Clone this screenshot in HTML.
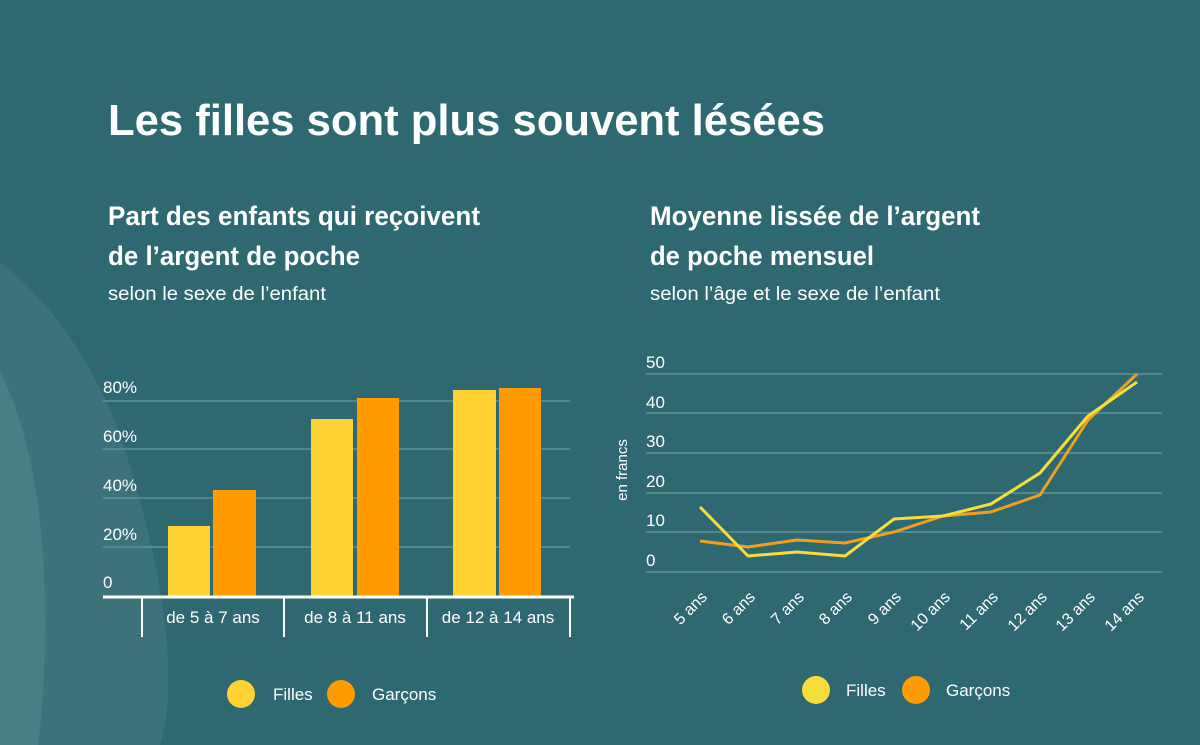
<!DOCTYPE html>
<html><head><meta charset="utf-8"><style>
html,body{margin:0;padding:0;background:#2e6870;}
svg{display:block;font-family:"Liberation Sans Narrow","Liberation Sans",sans-serif;}
</style></head><body>
<svg width="1200" height="745" viewBox="0 0 1200 745" xmlns="http://www.w3.org/2000/svg">
<rect width="1200" height="745" fill="#2e6870"/>
<!-- decorative shapes -->
<path d="M0,262 C50,300 100,370 125,450 C150,530 165,600 168,660 C170,700 165,730 160,745 L0,745 Z" fill="#ffffff" opacity="0.07"/>
<path d="M0,372 C25,420 40,490 44,570 C47,640 44,700 38,745 L0,745 Z" fill="#ffffff" opacity="0.08"/>
<!-- titles -->
<text x="108" y="135" font-size="44" font-weight="bold" fill="#fff" textLength="717" lengthAdjust="spacingAndGlyphs">Les filles sont plus souvent lésées</text>
<text x="108" y="225" font-size="27" font-weight="bold" fill="#fff" textLength="372" lengthAdjust="spacingAndGlyphs">Part des enfants qui reçoivent</text>
<text x="108" y="265" font-size="27" font-weight="bold" fill="#fff" textLength="252" lengthAdjust="spacingAndGlyphs">de l’argent de poche</text>
<text x="108" y="300" font-size="19" fill="#fff" textLength="218" lengthAdjust="spacingAndGlyphs">selon le sexe de l’enfant</text>
<text x="650" y="225" font-size="27" font-weight="bold" fill="#fff" textLength="330" lengthAdjust="spacingAndGlyphs">Moyenne lissée de l’argent</text>
<text x="650" y="265" font-size="27" font-weight="bold" fill="#fff" textLength="224" lengthAdjust="spacingAndGlyphs">de poche mensuel</text>
<text x="650" y="300" font-size="19" fill="#fff" textLength="290" lengthAdjust="spacingAndGlyphs">selon l’âge et le sexe de l’enfant</text>

<!-- bar chart -->
<g stroke="#5f9196" stroke-width="1.5">
<line x1="103" y1="401" x2="570" y2="401"/>
<line x1="103" y1="449" x2="570" y2="449"/>
<line x1="103" y1="498" x2="570" y2="498"/>
<line x1="103" y1="547" x2="570" y2="547"/>
</g>
<g font-size="17" fill="#fff">
<text x="103" y="393">80%</text>
<text x="103" y="442">60%</text>
<text x="103" y="491">40%</text>
<text x="103" y="540">20%</text>
<text x="103" y="588">0</text>
</g>
<rect x="168" y="526" width="42" height="70" fill="#ffd234"/>
<rect x="213" y="490" width="43" height="106" fill="#ff9a00"/>
<rect x="311" y="419" width="42" height="177" fill="#ffd234"/>
<rect x="357" y="398" width="42" height="198" fill="#ff9a00"/>
<rect x="453" y="390" width="43" height="206" fill="#ffd234"/>
<rect x="499" y="388" width="42" height="208" fill="#ff9a00"/>
<line x1="103" y1="597" x2="574" y2="597" stroke="#fff" stroke-width="3"/>
<g stroke="#fff" stroke-width="2">
<line x1="142" y1="597" x2="142" y2="637"/>
<line x1="284" y1="597" x2="284" y2="637"/>
<line x1="427" y1="597" x2="427" y2="637"/>
<line x1="570" y1="597" x2="570" y2="637"/>
</g>
<g font-size="17" fill="#fff" text-anchor="middle">
<text x="213" y="623">de 5 à 7 ans</text>
<text x="355" y="623">de 8 à 11 ans</text>
<text x="498" y="623">de 12 à 14 ans</text>
</g>
<circle cx="241" cy="694" r="14" fill="#ffd234"/>
<text x="273" y="700" font-size="17" fill="#fff">Filles</text>
<circle cx="341" cy="694" r="14" fill="#ff9a00"/>
<text x="372" y="700" font-size="17" fill="#fff">Garçons</text>

<!-- line chart -->
<g stroke="#5f9196" stroke-width="1.5">
<line x1="646" y1="374" x2="1162" y2="374"/>
<line x1="646" y1="413" x2="1162" y2="413"/>
<line x1="646" y1="453" x2="1162" y2="453"/>
<line x1="646" y1="493" x2="1162" y2="493"/>
<line x1="646" y1="532" x2="1162" y2="532"/>
<line x1="646" y1="572" x2="1162" y2="572"/>
</g>
<g font-size="17" fill="#fff">
<text x="646" y="368">50</text>
<text x="646" y="408">40</text>
<text x="646" y="447">30</text>
<text x="646" y="487">20</text>
<text x="646" y="526">10</text>
<text x="646" y="566">0</text>
</g>
<text transform="translate(627,470) rotate(-90)" font-size="15" fill="#fff" text-anchor="middle">en francs</text>
<polyline fill="none" stroke="#f0a020" stroke-width="3" stroke-linejoin="round" points="700,541 748,547 797,540 845,543 894,532 943,516 991,512 1040,495 1088,420 1137,374"/>
<polyline fill="none" stroke="#f7dc3b" stroke-width="3" stroke-linejoin="round" points="700,507 748,556 797,552 845,556 894,519 943,516 991,504 1040,473 1088,416 1137,382"/>
<g font-size="16" fill="#fff" text-anchor="end">
<text transform="translate(708,598) rotate(-45)">5 ans</text>
<text transform="translate(756,598) rotate(-45)">6 ans</text>
<text transform="translate(805,598) rotate(-45)">7 ans</text>
<text transform="translate(853,598) rotate(-45)">8 ans</text>
<text transform="translate(902,598) rotate(-45)">9 ans</text>
<text transform="translate(951,598) rotate(-45)">10 ans</text>
<text transform="translate(999,598) rotate(-45)">11 ans</text>
<text transform="translate(1048,598) rotate(-45)">12 ans</text>
<text transform="translate(1096,598) rotate(-45)">13 ans</text>
<text transform="translate(1145,598) rotate(-45)">14 ans</text>
</g>
<circle cx="816" cy="690" r="14" fill="#f7dc3b"/>
<text x="846" y="696" font-size="17" fill="#fff">Filles</text>
<circle cx="916" cy="690" r="14" fill="#ff9a00"/>
<text x="946" y="696" font-size="17" fill="#fff">Garçons</text>
</svg>
</body></html>
